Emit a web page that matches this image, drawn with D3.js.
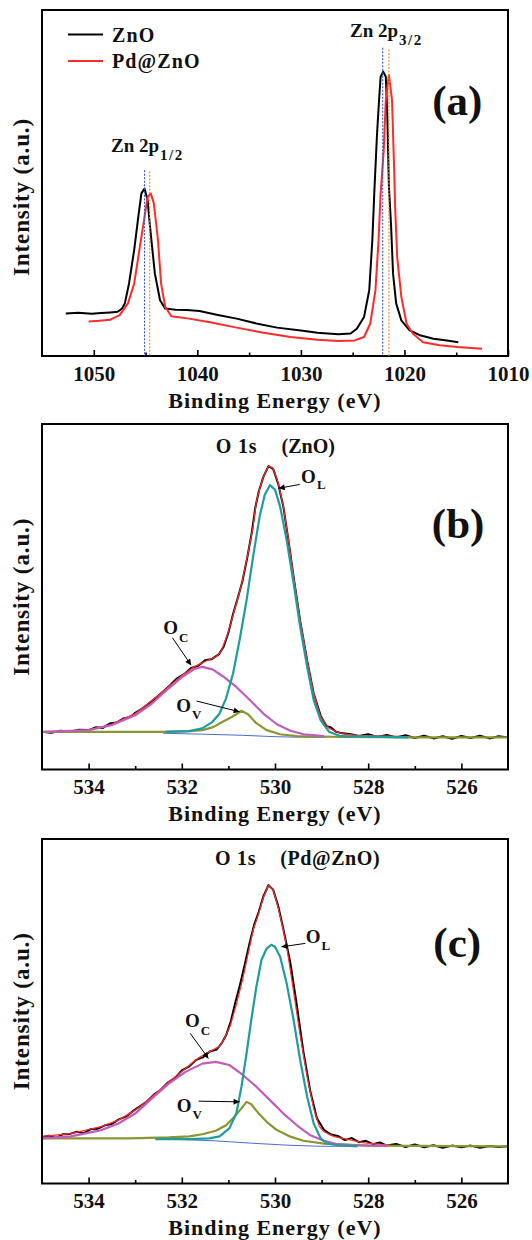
<!DOCTYPE html>
<html><head><meta charset="utf-8">
<script src="https://cdn.jsdelivr.net/npm/d3@7"></script>
<style>html,body{margin:0;padding:0;background:#fff}svg{display:block}</style>
</head><body>
<script>
// ---------- DATA ----------
// Panel (a): Zn 2p survey  [binding energy (eV), intensity (a.u.)]
const znoZn2p = [[1052.7,12.3],[1051.5,12.5],[1050.2,12.2],[1049.3,12.4],[1048.4,12.6],[1047.7,12.8],[1047.3,13.6],[1047.0,15.2],[1046.6,20.9],[1046.1,30.6],[1045.7,40.2],[1045.4,47.0],[1045.1,48.4],[1044.8,45.0],[1044.6,38.3],[1044.1,23.8],[1043.6,16.1],[1043.1,13.7],[1042.1,13.4],[1041.0,13.3],[1039.8,13.0],[1037.9,11.8],[1036.2,10.8],[1034.3,9.4],[1032.3,8.2],[1030.0,7.4],[1028.4,6.7],[1026.4,6.3],[1025.2,6.5],[1024.6,7.9],[1023.9,11.3],[1023.4,19.0],[1023.1,33.5],[1022.9,48.0],[1022.65,64.0],[1022.45,74.0],[1022.3,80.7],[1022.05,82.2],[1021.8,80.7],[1021.65,69.0],[1021.5,49.0],[1021.3,38.3],[1021.1,23.8],[1020.8,15.2],[1020.3,10.3],[1019.5,7.4],[1018.5,6.0],[1017.2,5.0],[1015.9,4.5],[1014.8,4.0]];
const pdznoZn2p = [[1050.5,10.0],[1049.5,10.2],[1048.4,10.5],[1047.5,11.8],[1046.7,15.2],[1046.1,20.9],[1045.6,30.6],[1045.1,40.2],[1044.8,46.0],[1044.5,47.0],[1044.2,44.1],[1043.8,33.5],[1043.5,20.9],[1043.1,14.2],[1042.5,11.5],[1040.8,10.8],[1038.9,9.8],[1036.2,8.2],[1033.6,6.7],[1031.0,5.5],[1028.4,4.7],[1026.4,4.3],[1024.8,4.5],[1023.9,5.5],[1023.3,9.4],[1022.8,19.0],[1022.5,33.5],[1022.3,47.0],[1022.0,59.5],[1021.8,74.0],[1021.5,81.2],[1021.2,74.0],[1021.0,54.7],[1020.9,43.1],[1020.7,28.6],[1020.3,17.1],[1019.8,9.4],[1019.2,6.5],[1018.2,4.0],[1016.6,3.1],[1014.9,2.6],[1012.5,2.1]];
// peak markers: [energy, top intensity]
const znoPeakLines = [[1045.1,53.7],[1022.1,89.1]];
const pdznoPeakLines = [[1044.6,53.4],[1021.5,88.6]];
const seriesNamesA = ["ZnO","Pd@ZnO"];
const ticksA = [1050,1040,1030,1020,1010];
const minorTicksA = [1045,1035,1025,1015];

// Panel (b): O 1s ZnO
const dataB = [[535.0,10.9],[534.8,10.6],[534.6,11.2],[534.4,10.9],[534.2,11.5],[534.0,11.4],[533.85,12.2],[533.7,12.0],[533.55,13.3],[533.4,13.6],[533.25,14.8],[533.1,15.2],[533.0,16.4],[532.85,17.6],[532.7,19.2],[532.55,20.8],[532.4,22.6],[532.25,24.4],[532.1,26.4],[531.95,27.6],[531.8,29.4],[531.65,30.0],[531.5,31.6],[531.35,32.0],[531.2,33.4],[531.1,35.6],[531.0,39.6],[530.9,45.0],[530.8,49.6],[530.7,54.4],[530.6,61.0],[530.5,68.5],[530.42,76.0],[530.35,80.4],[530.25,84.7],[530.14,87.8],[530.04,87.0],[529.93,82.6],[529.82,76.0],[529.71,66.2],[529.6,55.6],[529.46,43.0],[529.31,31.5],[529.17,22.0],[529.02,15.6],[528.9,12.6],[528.8,12.2],[528.7,11.0],[528.6,10.6],[528.4,10.3],[528.2,9.7],[528.0,10.2],[527.8,9.4],[527.6,10.0],[527.4,9.3],[527.2,9.9],[527.0,9.1],[526.8,9.8],[526.6,9.0],[526.4,9.6],[526.2,8.9],[526.0,9.7],[525.8,9.1],[525.6,9.8],[525.4,9.0],[525.2,9.6],[525.0,9.3]];
const fitB = [[534.95,10.9],[534.0,11.4],[533.51,13.1],[533.0,16.2],[532.5,21.5],[531.99,27.3],[531.74,29.7],[531.48,31.4],[531.27,32.6],[531.16,34.1],[531.01,39.4],[530.87,46.1],[530.72,53.4],[530.58,62.5],[530.47,70.3],[530.40,77.5],[530.33,81.2],[530.25,84.7],[530.14,87.8],[530.04,87.2],[529.93,82.8],[529.82,76.1],[529.71,66.4],[529.60,55.8],[529.46,43.2],[529.31,31.7],[529.17,22.0],[529.02,15.3],[528.84,11.9],[528.59,10.4],[528.23,9.9],[527.58,9.65],[527.1,9.5]];
const olB = [[532.35,10.9],[531.84,11.1],[531.56,11.9],[531.34,13.8],[531.19,16.2],[531.05,20.6],[530.90,27.8],[530.76,37.5],[530.61,49.0],[530.47,61.6],[530.33,73.2],[530.22,79.5],[530.11,82.3],[530.0,81.0],[529.89,76.1],[529.75,66.4],[529.60,53.9],[529.46,41.3],[529.31,29.7],[529.17,20.1],[529.02,14.3],[528.84,10.9],[528.59,9.65],[527.94,9.5],[527.14,9.3]];
const ocB = [[534.95,10.9],[534.0,11.4],[533.51,12.8],[533.0,15.7],[532.64,19.1],[532.28,23.5],[531.99,26.8],[531.74,29.0],[531.56,29.7],[531.34,29.0],[531.12,27.0],[530.83,23.9],[530.54,20.1],[530.25,16.2],[529.96,13.1],[529.67,11.2],[529.39,10.2],[528.95,9.65]];
const ovB = [[535.0,10.9],[533.5,10.9],[532.42,10.9],[531.84,11.1],[531.56,11.4],[531.34,12.2],[531.12,13.8],[530.9,15.4],[530.72,17.0],[530.58,16.0],[530.4,13.4],[530.18,11.4],[529.89,10.2],[529.53,9.65],[528.5,9.4],[527.0,9.3],[525.0,9.3]];
const bgB = [[532.4,10.5],[531.5,10.2],[530.7,9.9],[530.0,9.5],[529.5,9.35],[528.9,9.3]];

// Panel (c): O 1s Pd@ZnO
const dataC = [[535.0,13.4],[534.85,13.9],[534.7,13.2],[534.55,14.3],[534.4,14.4],[534.25,15.0],[534.1,14.6],[533.95,15.8],[533.8,15.9],[533.65,16.9],[533.5,17.3],[533.35,18.6],[533.2,19.4],[533.05,21.0],[532.9,22.4],[532.75,23.8],[532.6,25.8],[532.45,27.2],[532.3,29.3],[532.15,30.6],[532.0,32.8],[531.85,33.9],[531.7,35.8],[531.55,36.6],[531.4,38.3],[531.25,38.9],[531.15,40.6],[531.05,43.0],[530.95,47.0],[530.85,52.6],[530.75,57.8],[530.65,63.5],[530.55,69.5],[530.45,75.0],[530.35,78.8],[530.25,83.3],[530.14,86.6],[530.04,85.3],[529.93,80.5],[529.82,73.8],[529.67,64.0],[529.53,51.6],[529.39,38.2],[529.24,26.6],[529.1,18.9],[528.95,15.6],[528.8,14.2],[528.65,13.8],[528.5,12.6],[528.35,13.2],[528.2,12.0],[528.05,12.4],[527.9,11.4],[527.75,11.9],[527.6,11.0],[527.4,11.5],[527.2,10.6],[527.0,11.3],[526.8,10.5],[526.6,11.1],[526.4,10.4],[526.2,11.0],[526.0,10.5],[525.8,11.0],[525.6,10.4],[525.4,10.9],[525.2,10.6],[525.0,10.8]];
const fitC = [[535.0,13.7],[534.38,14.5],[533.73,16.5],[533.36,18.4],[533.0,21.3],[532.64,25.2],[532.28,29.5],[531.92,33.4],[531.63,36.6],[531.41,38.2],[531.19,39.8],[531.08,42.2],[530.96,45.8],[530.83,52.0],[530.69,59.5],[530.58,66.5],[530.47,73.5],[530.36,78.0],[530.25,83.0],[530.14,86.6],[530.04,85.3],[529.93,80.0],[529.82,73.5],[529.74,68.0],[529.61,56.5],[529.46,43.0],[529.31,31.0],[529.17,21.8],[529.05,16.6],[528.95,15.0],[528.73,13.6],[528.44,12.8],[528.08,11.8],[527.72,11.4],[527.5,11.1]];
const olC = [[532.57,12.9],[531.84,12.9],[531.41,13.1],[531.19,13.7],[530.98,16.0],[530.83,20.3],[530.72,28.1],[530.61,37.8],[530.51,47.4],[530.40,57.1],[530.29,64.9],[530.18,68.2],[530.08,69.3],[530.0,68.7],[529.89,65.8],[529.75,58.1],[529.60,47.4],[529.46,35.8],[529.31,25.2],[529.17,17.4],[529.02,13.1],[528.88,11.6],[528.66,11.1],[528.23,10.8]];
const ocC = [[535.0,13.1],[534.38,13.7],[533.73,15.5],[533.36,17.4],[533.0,20.3],[532.64,24.7],[532.28,29.0],[531.92,32.4],[531.56,34.8],[531.27,35.3],[530.98,34.4],[530.69,31.5],[530.40,28.1],[530.11,24.2],[529.82,20.3],[529.53,16.9],[529.24,14.0],[528.95,12.4],[528.66,11.4],[528.30,11.1],[527.6,10.9]];
const ovC = [[535.0,13.1],[533.15,13.1],[532.28,13.4],[531.84,13.7],[531.56,14.3],[531.27,15.3],[531.05,16.9],[530.87,19.4],[530.72,21.8],[530.61,23.7],[530.51,23.0],[530.36,20.5],[530.18,17.9],[529.96,15.5],[529.67,13.6],[529.39,12.4],[528.95,11.6],[528.0,11.0],[525.0,10.8]];
const bgC = [[532.55,13.0],[531.3,12.4],[530.5,11.7],[529.7,11.1],[529.0,10.8],[528.3,10.8]];

const ticksO = [534,532,530,528,526];
const minorTicksO = [533,531,529,527];

// ---------- DRAW ----------
const W = 532, H = 1240;
const FONT = "'Liberation Serif','Times New Roman',serif";
const C = {data:"#000", fit:"#ff2a2a", ol:"#1f9c9c", oc:"#c05cc0", ov:"#8a9632", bg:"#4a6fd0", blueDot:"#3355cc", orangeDot:"#f08a28"};

const svg = d3.select("body").append("svg").attr("width", W).attr("height", H)
  .style("font-family", FONT);
svg.append("rect").attr("width", W).attr("height", H).attr("fill", "#fff");

const defs = svg.append("defs");
defs.append("marker").attr("id","arr").attr("viewBox","0 0 10 10").attr("refX",10).attr("refY",5)
  .attr("markerWidth",7).attr("markerHeight",6).attr("orient","auto").attr("markerUnits","userSpaceOnUse")
  .append("path").attr("d","M0,0L10,5L0,10z").attr("fill","#000");

const L = 42, R = 508;

function panel(cfg) {
  const g = svg.append("g");
  const x = d3.scaleLinear().domain(cfg.xDomain).range([L, R]);
  const y = d3.scaleLinear().domain([0, 100]).range([cfg.bottom, cfg.top]);
  const line = d3.line().x(d => x(d[0])).y(d => y(d[1]));

  // axes
  const ax = g.append("g").attr("transform", `translate(0,${cfg.bottom})`)
    .call(d3.axisBottom(x).tickValues(cfg.ticks).tickSize(-6).tickPadding(10).tickFormat(d3.format("d")));
  ax.select(".domain").remove();
  ax.selectAll("line").attr("stroke-width", 1.6);
  ax.selectAll("text").attr("font-family", FONT).attr("font-size", 21).attr("font-weight", "bold").attr("fill","#111");
  const mx = g.append("g").attr("transform", `translate(0,${cfg.bottom})`)
    .call(d3.axisBottom(x).tickValues(cfg.minor).tickSize(-3.5).tickFormat(""));
  mx.select(".domain").remove();
  mx.selectAll("line").attr("stroke-width", 1.6);

  // series
  cfg.series.forEach(s => {
    g.append("path").datum(s.data).attr("d", line).attr("fill", "none")
      .attr("stroke", s.color).attr("stroke-width", s.width).attr("stroke-linejoin","round");
  });

  // frame
  g.append("rect").attr("x", L).attr("y", cfg.top).attr("width", R - L).attr("height", cfg.bottom - cfg.top)
    .attr("fill", "none").attr("stroke", "#000").attr("stroke-width", 2);

  // axis titles
  g.append("text").attr("x", (L + R) / 2).attr("y", cfg.bottom + 51.5).attr("text-anchor", "middle")
    .attr("font-size", 22).attr("font-weight", "bold").attr("letter-spacing", 1).attr("fill","#111")
    .text("Binding Energy (eV)");
  const yMid = cfg.yTitleMid != null ? cfg.yTitleMid : (cfg.top + cfg.bottom) / 2;
  g.append("text").attr("transform", `translate(29,${yMid}) rotate(-90)`)
    .attr("text-anchor", "middle").attr("font-size", 23).attr("font-weight", "bold")
    .attr("letter-spacing", 0.9).attr("fill","#111").text("Intensity (a.u.)");

  // panel letter
  g.append("text").attr("x", x(cfg.letterAt[0])).attr("y", y(cfg.letterAt[1])).attr("text-anchor", "middle")
    .attr("font-size", 43).attr("font-weight", "bold").attr("fill","#111").text(cfg.letter);

  // labels
  (cfg.labels || []).forEach(lb => {
    const t = g.append("text").attr("x", x(lb.at[0])).attr("y", y(lb.at[1]))
      .attr("font-size", lb.size || 20).attr("font-weight", "bold").attr("fill","#111")
      .attr("letter-spacing", lb.ls || 0);
    t.append("tspan").text(lb.main);
    if (lb.sub) t.append("tspan").attr("dy", lb.subDy || 7).attr("dx", lb.subDx || 1)
      .attr("font-size", lb.subSize || 14).attr("letter-spacing", lb.subLs || 0).text(lb.sub);
  });
  (cfg.arrows || []).forEach(a => {
    g.append("line").attr("x1", x(a.from[0])).attr("y1", y(a.from[1]))
      .attr("x2", x(a.to[0])).attr("y2", y(a.to[1]))
      .attr("stroke", "#000").attr("stroke-width", 1).attr("marker-end", "url(#arr)");
  });
  return {g, x, y};
}

// Panel (a)
const pa = panel({
  xDomain: [1055, 1010], top: 10, bottom: 356, ticks: ticksA, minor: minorTicksA, yTitleMid: 197,
  series: [
    {data: znoZn2p, color: C.data, width: 2},
    {data: pdznoZn2p, color: C.fit, width: 2}
  ],
  letter: "(a)", letterAt: [1014.9, 69.6],
  labels: [
    {main: "Zn 2p", sub: "1/2", at: [1048.34, 59.0], size: 19, subSize: 15, subDy: 8, subDx: 1, subLs: 1.5},
    {main: "Zn 2p", sub: "3/2", at: [1025.26, 92.2], size: 19, subSize: 15, subDy: 8, subDx: 1, subLs: 1.5}
  ]
});
// peak position dotted lines
[[znoPeakLines, C.blueDot], [pdznoPeakLines, C.orangeDot]].forEach(([arr, col]) => {
  pa.g.selectAll(null).data(arr).enter().append("line")
    .attr("x1", d => pa.x(d[0])).attr("x2", d => pa.x(d[0]))
    .attr("y1", d => pa.y(d[1])).attr("y2", pa.y(0))
    .attr("stroke", col).attr("stroke-width", 1.1).attr("stroke-dasharray", "2,1.5");
});
// legend
const legendColors = [C.data, C.fit];
seriesNamesA.forEach((name, i) => {
  const ly = 34.5 + i * 26.5;
  pa.g.append("line").attr("x1", 68).attr("x2", 103).attr("y1", ly).attr("y2", ly)
    .attr("stroke", legendColors[i]).attr("stroke-width", 2);
  pa.g.append("text").attr("x", 112).attr("y", ly + 7).attr("font-size", 20).attr("font-weight", "bold")
    .attr("letter-spacing", 1.1).attr("fill","#111").text(name);
});

// Panel (b)
panel({
  xDomain: [535, 525], top: 424, bottom: 769.5, ticks: ticksO, minor: minorTicksO,
  series: [
    {data: dataB, color: C.data, width: 2},
    {data: fitB, color: C.fit, width: 1.2},
    {data: bgB, color: C.bg, width: 1},
    {data: ovB, color: C.ov, width: 2.2},
    {data: ocB, color: C.oc, width: 2.2},
    {data: olB, color: C.ol, width: 2.2}
  ],
  letter: "(b)", letterAt: [526.07, 66.9],
  labels: [
    {main: "O 1s", at: [531.27, 91.7], size: 20, ls: 0.8},
    {main: "(ZnO)", at: [529.86, 91.7], size: 20},
    {main: "O", sub: "L", at: [529.44, 82.8], size: 19, subSize: 13, subDy: 6, subDx: 1},
    {main: "O", sub: "C", at: [532.40, 39.1], size: 19, subSize: 13, subDy: 8, subDx: 1},
    {main: "O", sub: "V", at: [532.12, 16.7], size: 19, subSize: 13, subDy: 7, subDx: 1}
  ],
  arrows: [
    {from: [529.47, 82.5], to: [529.92, 81.4]},
    {from: [532.2, 38.1], to: [531.8, 30.2]},
    {from: [531.68, 19.8], to: [530.76, 16.7]}
  ]
});

// Panel (c)
panel({
  xDomain: [535, 525], top: 839, bottom: 1183.5, ticks: ticksO, minor: minorTicksO,
  series: [
    {data: dataC, color: C.data, width: 2},
    {data: fitC, color: C.fit, width: 1.2},
    {data: bgC, color: C.bg, width: 1},
    {data: ovC, color: C.ov, width: 2.2},
    {data: ocC, color: C.oc, width: 2.2},
    {data: olC, color: C.ol, width: 2.2}
  ],
  letter: "(c)", letterAt: [526.09, 65.8],
  labels: [
    {main: "O 1s", at: [531.29, 92.4], size: 20, ls: 0.8},
    {main: "(Pd@ZnO)", at: [529.89, 92.4], size: 20, ls: 0.6},
    {main: "O", sub: "L", at: [529.34, 69.9], size: 19, subSize: 13, subDy: 7, subDx: 1},
    {main: "O", sub: "C", at: [531.93, 45.5], size: 19, subSize: 13, subDy: 8, subDx: 1},
    {main: "O", sub: "V", at: [532.11, 20.8], size: 19, subSize: 13, subDy: 7, subDx: 1}
  ],
  arrows: [
    {from: [529.35, 69.7], to: [529.86, 68.7]},
    {from: [531.82, 43.6], to: [531.43, 36.3]},
    {from: [531.64, 23.9], to: [530.76, 23.7]}
  ]
});
</script>
</body></html>
